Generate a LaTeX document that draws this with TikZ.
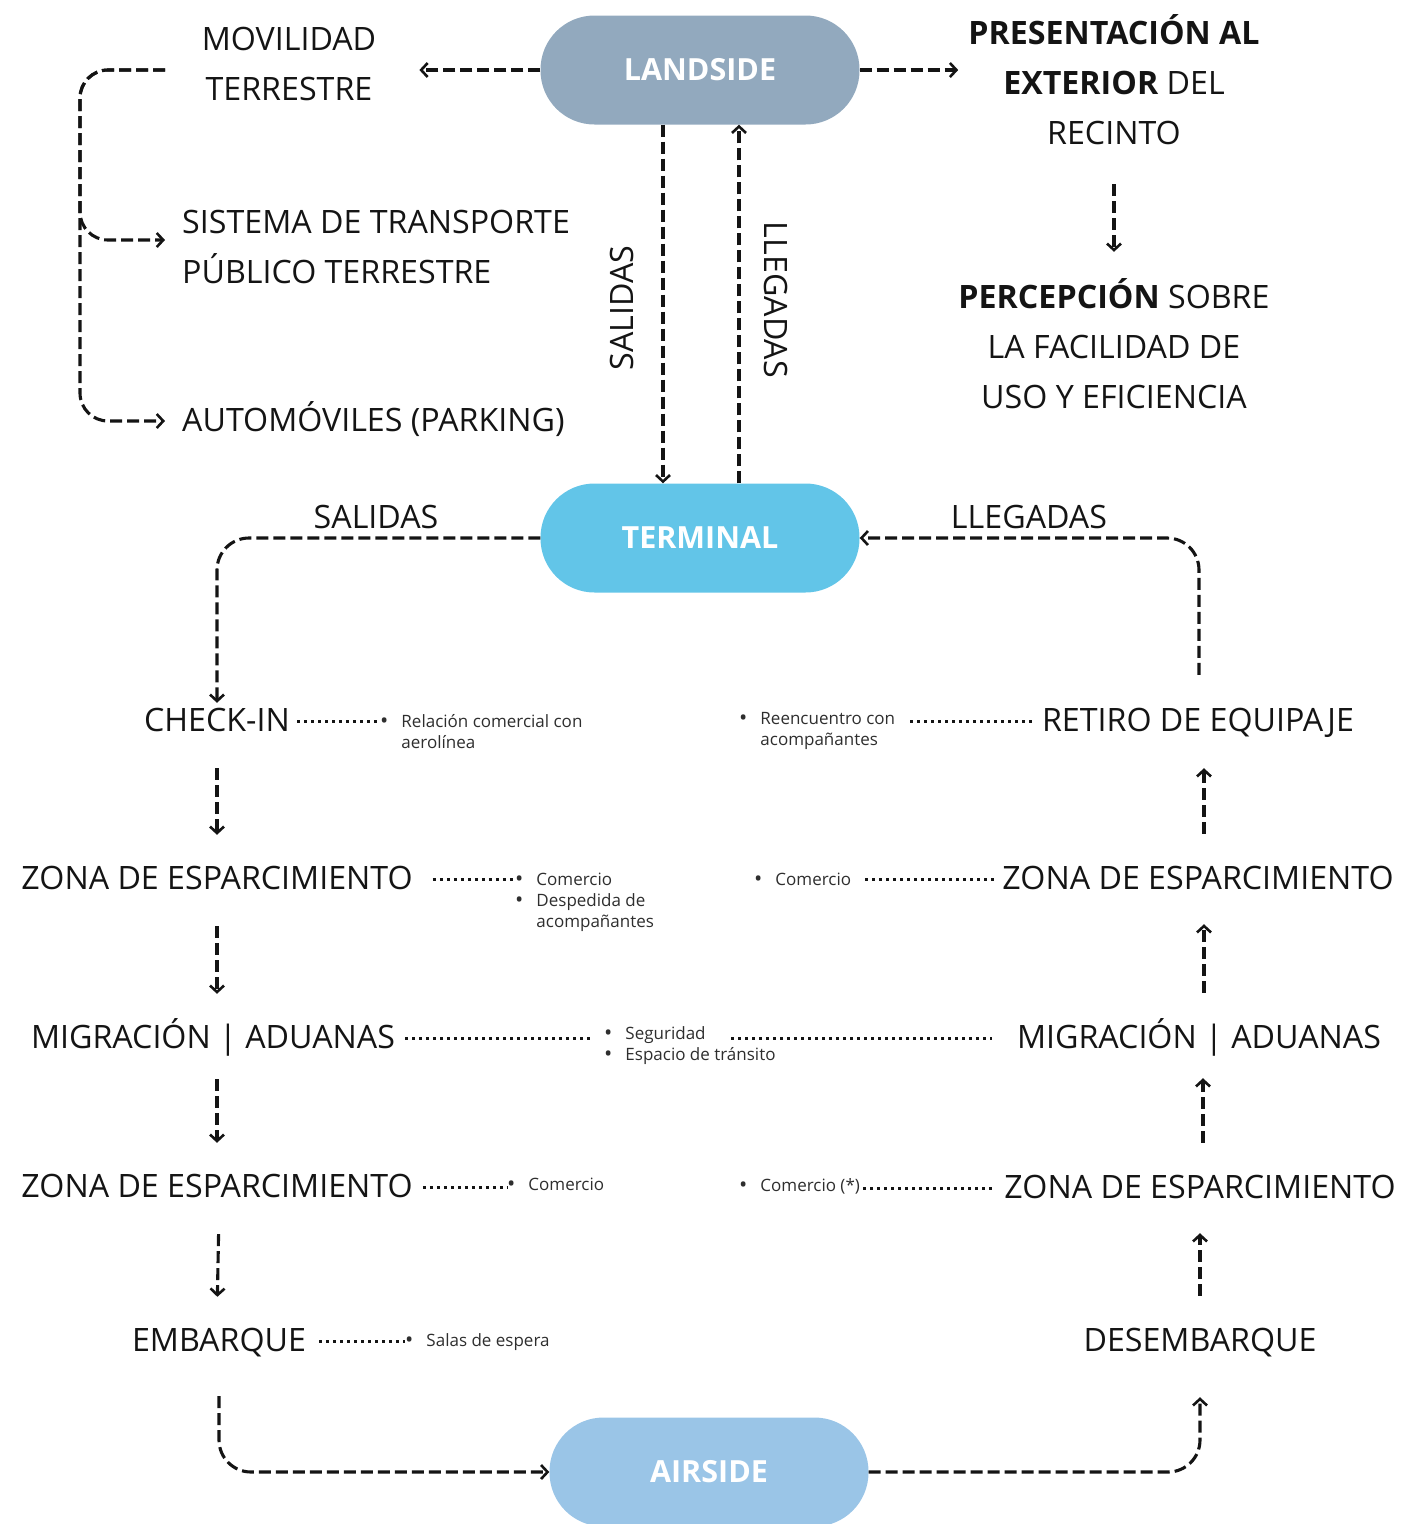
\documentclass[tikz,border=0pt]{standalone}
\usepackage{fontspec}
\setmainfont{Open Sans}
\usetikzlibrary{arrows.meta,calc}
\definecolor{landc}{HTML}{92A9BE}
\definecolor{termc}{HTML}{62C5E8}
\definecolor{airc}{HTML}{9AC5E7}
\definecolor{ink}{HTML}{141414}
\definecolor{note}{HTML}{2E2E2E}
% larger bullet mark for the notes
\newcommand\bul{\raisebox{-1.2pt}{\fontsize{22}{21}\selectfont\textbullet}}
% two-column bullet list: bullet, gap, text
\newcommand\blist[1]{\begin{tabular}[t]{@{}l@{\hspace{13pt}}l@{}}#1\end{tabular}}

\tikzset{
  pill/.style={fill=#1, rounded corners=54pt, minimum width=319pt, minimum height=109pt,
    inner sep=0pt, text=white, font=\fontsize{30.5}{36}\selectfont\bfseries},
  lbl/.style={inner sep=0pt, text=ink, align=center, font=\fontsize{32.2}{50}\selectfont},
  lst/.style={inner sep=0pt, text=note, anchor=base west, font=\fontsize{17}{21}\selectfont},
  flow/.style={draw=ink, line width=3.1pt, dash pattern=on 12pt off 5pt,
    -{Straight Barb[length=6.5pt,width=14pt,line width=2.6pt]}},
  dots/.style={draw=ink, line width=3pt, dash pattern=on 2.8pt off 4.2pt},
}

\begin{document}
\begin{tikzpicture}[x=1pt,y=-1pt]
\useasboundingbox (0,0) rectangle (1401,1524);

% main zones
\node[pill=landc] (land) at (700,70) {LANDSIDE};
\node[pill=termc] (term) at (700,538) {TERMINAL};
\node[pill=airc]  (air)  at (709,1472) {AIRSIDE};

% landside group
\node[lbl] (movil) at (289,65) {\strut MOVILIDAD\\\strut TERRESTRE};
\node[lbl, align=left, anchor=west] (sist) at (182,248) {\strut SISTEMA DE TRANSPORTE\\\strut PÚBLICO TERRESTRE};
\node[lbl, anchor=west] (auto) at (182,421) {\strut AUTOMÓVILES (PARKING)};
\node[lbl] (pres) at (1114,84) {\strut\textbf{PRESENTACIÓN AL}\\\strut\textbf{EXTERIOR} DEL\\\strut RECINTO};
\node[lbl] (perc) at (1114,348) {\strut\textbf{PERCEPCIÓN} SOBRE\\\strut LA FACILIDAD DE\\\strut USO Y EFICIENCIA};
\node[lbl, rotate=90]  (salv) at (622,308) {SALIDAS};
\node[lbl, rotate=-90] (llev) at (776,300) {LLEGADAS};

% terminal labels
\node[lbl] (salh) at (376,518) {\strut SALIDAS};
\node[lbl] (lleh) at (1029,518) {\strut LLEGADAS};

% departures column
\node[lbl] (ci)  at (217,721)  {\strut CHECK-IN};
\node[lbl] (zl1) at (217,879)  {\strut ZONA DE ESPARCIMIENTO};
\node[lbl] (ml)  at (213,1038) {\strut MIGRACIÓN | ADUANAS};
\node[lbl] (zl2) at (217,1187) {\strut ZONA DE ESPARCIMIENTO};
\node[lbl] (emb) at (219,1341) {\strut EMBARQUE};

% arrivals column
\node[lbl] (ret) at (1198,721)  {\strut RETIRO DE EQUIPAJE};
\node[lbl] (zr1) at (1198,879)  {\strut ZONA DE ESPARCIMIENTO};
\node[lbl] (mr)  at (1199,1038) {\strut MIGRACIÓN | ADUANAS};
\node[lbl] (zr2) at (1200,1188) {\strut ZONA DE ESPARCIMIENTO};
\node[lbl] (des) at (1200,1341) {\strut DESEMBARQUE};

% notes
\node[lst] (n1) at (380,727)  {\blist{\bul & Relación comercial con\\ & aerolínea}};
\node[lst] (n2) at (515,885)  {\blist{\bul & Comercio\\\bul & Despedida de\\ & acompañantes}};
\node[lst] (n3) at (604,1039) {\blist{\bul & Seguridad\\\bul & Espacio de tránsito}};
\node[lst] (n4) at (507,1190) {\blist{\bul & Comercio}};
\node[lst] (n5) at (405,1346) {\blist{\bul & Salas de espera}};
\node[lst] (n6) at (739,724)  {\blist{\bul & Reencuentro con\\ & acompañantes}};
\node[lst] (n7) at (754,885)  {\blist{\bul & Comercio}};
\node[lst] (n8) at (739,1191) {\blist{\bul & Comercio (*)}};

% dotted links
\draw[dots] ($(ci.east)+(7,0)$) -- (ci.east -| n1.west);
\draw[dots] ($(zl1.east)+(20,0)$) -- (zl1.east -| n2.west);
\draw[dots] ($(ml.east)+(10,0)$) -- ($(ml.east -| n3.west)+(-14,0)$);
\draw[dots] ($(n3.west |- mr.west)+(127,0)$) -- ($(mr.west)+(-25,0)$);
\draw[dots] ($(zl2.east)+(10,0)$) -- (zl2.east -| n4.west);
\draw[dots] ($(emb.east)+(13,0)$) -- (emb.east -| n5.west);
\draw[dots] ($(n6.west |- ret.west)+(171,0)$) -- ($(ret.west)+(-9,0)$);
\draw[dots] ($(n7.east |- zr1.west)+(14,0)$) -- ($(zr1.west)+(-8,0)$);
\draw[dots] ($(n8.east |- zr2.west)+(3,0)$) -- ($(zr2.west)+(-9,0)$);

% landside flows
\draw[flow] (land.west) -- ($(movil.east |- land.west)+(43,0)$);
\draw[flow] (land.east) -- ($(pres.west |- land.east)+(-10,0)$);
\draw[flow, shorten <=25pt, shorten >=21pt] (pres.south) -- (perc.north);
\coordinate (bstart) at (165,70);
\draw[flow, rounded corners=28pt] (bstart) -- (80,70) |- ($(sist.west)+(-17,-8)$);
\draw[flow, rounded corners=28pt] (bstart) -- (80,70) |- ($(auto.west)+(-17,0)$);
\draw[flow] ($(land.south)+(-37,0)$) -- ($(term.north)+(-37,0)$);
\draw[flow] ($(term.north)+(39,0)$) -- ($(land.south)+(39,0)$);

% terminal flows
\draw[flow, rounded corners=32pt] (term.west) -| ($(ci.north)+(0,7)$);
\draw[flow, rounded corners=32pt] ($(ret.north)+(1,-21)$) |- (term.east);

% departures
\draw[flow, shorten <=22pt, shorten >=19pt] (ci.south) -- (ci.south |- zl1.north);
\draw[flow, shorten <=22pt, shorten >=19pt] (zl1.south) -- (zl1.south |- ml.north);
\draw[flow, shorten <=16pt, shorten >=19pt] ($(ml.south)+(4,0)$) -- ($(ml.south |- zl2.north)+(4,0)$);
\draw[flow, shorten <=22pt, shorten >=19pt] ($(zl2.south)+(2,0)$) -- ($(zl2.south |- emb.north)$);
\draw[flow, rounded corners=32pt, shorten <=30pt] (emb.south) |- (air.west);

% arrivals
\draw[flow, rounded corners=32pt, shorten >=31pt] (air.east) -| (des.south);
\draw[flow, shorten <=20pt, shorten >=20pt] (des.north) -- (des.north |- zr2.south);
\draw[flow, shorten <=20pt, shorten >=15pt] ($(zr2.north)+(3,0)$) -- ($(zr2.north |- mr.south)+(3,0)$);
\draw[flow, shorten <=20pt, shorten >=20pt] ($(mr.north)+(5,0)$) -- ($(mr.north |- zr1.south)+(5,0)$);
\draw[flow, shorten <=20pt, shorten >=22pt] ($(zr1.north)+(6,0)$) -- ($(zr1.north |- ret.south)+(6,0)$);
\end{tikzpicture}
\end{document}
